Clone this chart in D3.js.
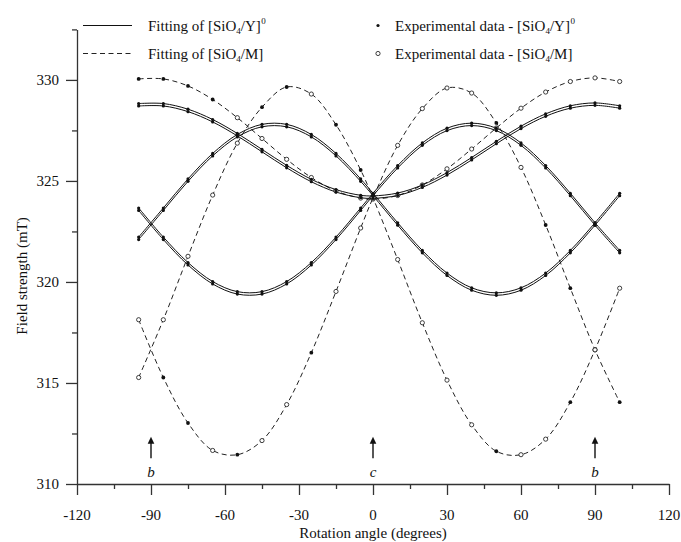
<!DOCTYPE html>
<html>
<head>
<meta charset="utf-8">
<script src="https://cdn.jsdelivr.net/npm/d3@7"></script>
<style>
  html, body { margin: 0; padding: 0; background: #fff; overflow: hidden; }
  svg { display: block; }
  svg text { font-family: "Liberation Serif", "Times New Roman", serif; fill: #111; }
</style>
</head>
<body>
<div id="graph"><svg></svg></div>
<script>
// rotation angles of the measured spectra (degrees)
let angles = [-95, -85, -75, -65, -55, -45, -35, -25, -15, -5, 0, 10, 20, 30, 40, 50, 60, 70, 80, 90, 100];

// [SiO4/Y]0 lines (field in mT), each one is a small 89Y doublet
let yLine1 = [328.77, 328.77, 328.49, 327.98, 327.29, 326.5, 325.71, 325.02, 324.51, 324.23, 324.2, 324.34, 324.74, 325.35, 326.1, 326.9, 327.65, 328.26, 328.66, 328.8, 328.66];
let yLine2 = [322.16, 323.6, 325.04, 326.3, 327.24, 327.74, 327.74, 327.24, 326.3, 325.04, 324.33, 322.87, 321.5, 320.38, 319.65, 319.4, 319.65, 320.38, 321.5, 322.87, 324.33];
let yLine3 = [323.6, 322.16, 320.9, 319.96, 319.46, 319.46, 319.96, 320.9, 322.16, 323.6, 324.33, 325.7, 326.82, 327.55, 327.8, 327.55, 326.82, 325.7, 324.33, 322.87, 321.5];
let yDoublet = 0.12;

// [SiO4/M] lines (field in mT)
let mLine1 = [330.05, 330.05, 329.7, 329.03, 328.13, 327.1, 326.07, 325.17, 324.5, 324.15, 324.1, 324.28, 324.8, 325.6, 326.58, 327.62, 328.6, 329.4, 329.92, 330.1, 329.92];
let mLine2 = [315.27, 318.13, 321.27, 324.3, 326.87, 328.65, 329.65, 329.3, 327.78, 325.54, 324.16, 321.11, 317.98, 315.14, 312.93, 311.62, 311.45, 312.22, 314.05, 316.64, 319.69];
let mLine3 = [318.13, 315.27, 313.02, 311.66, 311.45, 312.15, 313.93, 316.5, 319.53, 322.67, 324.16, 326.76, 328.58, 329.6, 329.35, 327.87, 325.67, 322.82, 319.69, 316.64, 314.05];

// angles where the point on a dashed line is a filled dot
let mFilled1 = [-95, -85, -75, -65];
let mFilled2 = [-45, -35, -15, -5, 50, 80];
let mFilled3 = [-85, -75, -55, -25, 50, 70, 80, 100];

// axis ticks
let xTicks = [-120, -90, -60, -30, 0, 30, 60, 90, 120];
let xMinor = [-105, -75, -45, -15, 15, 45, 75, 105];
let yTicks = [310, 315, 320, 325, 330];
let yMinor = [312.5, 317.5, 322.5, 327.5, 332.5];

// crystal axis arrows
let arrowAngles = [-90, 0, 90];
let arrowLabels = ["b", "c", "b"];
let arrowFrom = 311.28;
let arrowTo = 312.34;

// Margin Convention
let margins = { top: 29.4, right: 12, bottom: 58, left: 77 };
let outerWidth = 681;
let outerHeight = 542;
let innerWidth = outerWidth - margins.left - margins.right;
let innerHeight = outerHeight - margins.top - margins.bottom;

let root = d3.select("div#graph svg")
  .attr("width", outerWidth)
  .attr("height", outerHeight);

let svg = root.append("g")
  .attr("id", "plot-area")
  .attr("transform", "translate(" + margins.left + "," + margins.top + ")");

let x = d3.scaleLinear().domain([-120, 120]).range([0, innerWidth]);
let y = d3.scaleLinear().domain([310, 332.5]).range([innerHeight, 0]);

// axis lines and ticks (labels are placed below as plain texts)
svg.append("g")
  .attr("transform", "translate(0," + innerHeight + ")")
  .call(d3.axisBottom(x).tickValues(xTicks).tickFormat("").tickSize(11).tickSizeOuter(0));
svg.append("g")
  .attr("transform", "translate(0," + innerHeight + ")")
  .call(d3.axisBottom(x).tickValues(xMinor).tickFormat("").tickSize(5))
  .select(".domain").remove();
svg.append("g")
  .call(d3.axisLeft(y).tickValues(yTicks).tickFormat("").tickSize(11).tickSizeOuter(0));
svg.append("g")
  .call(d3.axisLeft(y).tickValues(yMinor).tickFormat("").tickSize(5))
  .select(".domain").remove();
svg.selectAll(".domain, .tick line").attr("stroke", "#333").attr("stroke-width", 1.3);

let labels = root.append("g");
labels.selectAll("text.xl")
  .data(xTicks)
  .join("text")
  .attr("class", "xl")
  .attr("x", (d) => margins.left + x(d))
  .attr("y", margins.top + innerHeight + 36)
  .attr("text-anchor", "middle")
  .attr("font-size", 15)
  .text((d) => String(d));
labels.selectAll("text.yl")
  .data(yTicks)
  .join("text")
  .attr("class", "yl")
  .attr("x", margins.left - 18)
  .attr("y", (d) => margins.top + y(d) + 5)
  .attr("text-anchor", "end")
  .attr("font-size", 15)
  .text((d) => String(d));

// axis titles
root.append("text")
  .attr("x", margins.left + x(0))
  .attr("y", 538)
  .attr("text-anchor", "middle")
  .style("font-size", "15px")
  .text("Rotation angle (degrees)");

root.append("text")
  .attr("transform", "translate(27," + (margins.top + y(320.3)) + ") rotate(-90)")
  .attr("text-anchor", "middle")
  .style("font-size", "15px")
  .text("Field strength (mT)");

let line = d3.line()
  .x((d) => x(d[0]))
  .y((d) => y(d[1]))
  .curve(d3.curveCatmullRom.alpha(0.5));

// dashed fits [SiO4/M]
let mLines = [mLine1, mLine2, mLine3];
let mFilled = [mFilled1, mFilled2, mFilled3];
mLines.forEach((vals) => {
  svg.append("path")
    .datum(angles.map((a, i) => [a, vals[i]]))
    .attr("d", line)
    .attr("fill", "none")
    .attr("stroke", "#222")
    .attr("stroke-width", 1)
    .attr("stroke-dasharray", "5,3.5");
});

// solid fits [SiO4/Y]0, drawn as the two doublet components
let yLines = [yLine1, yLine2, yLine3];
yLines.forEach((vals) => {
  [-yDoublet / 2, yDoublet / 2].forEach((off) => {
    svg.append("path")
      .datum(angles.map((a, i) => [a, vals[i] + off]))
      .attr("d", line)
      .attr("fill", "none")
      .attr("stroke", "#111")
      .attr("stroke-width", 1);
  });
});

// experimental points
mLines.forEach((vals, k) => {
  svg.append("g")
    .selectAll("circle")
    .data(angles.map((a, i) => ({ a: a, v: vals[i], filled: mFilled[k].includes(a) })))
    .join("circle")
    .attr("cx", (d) => x(d.a))
    .attr("cy", (d) => y(d.v))
    .attr("r", (d) => (d.filled ? 1.9 : 2.1))
    .attr("fill", (d) => (d.filled ? "#111" : "#fff"))
    .attr("stroke", "#111")
    .attr("stroke-width", (d) => (d.filled ? 0 : 0.8));
});

yLines.forEach((vals) => {
  [-yDoublet / 2, yDoublet / 2].forEach((off) => {
    svg.append("g")
      .selectAll("circle")
      .data(angles.map((a, i) => [a, vals[i] + off]))
      .join("circle")
      .attr("cx", (d) => x(d[0]))
      .attr("cy", (d) => y(d[1]))
      .attr("r", 1.6)
      .attr("fill", "#111");
  });
});

// arrows for the crystal axes
let arrows = svg.append("g");
arrowAngles.forEach((a, i) => {
  let ax = x(a);
  let top = y(arrowTo);
  arrows.append("line")
    .attr("x1", ax).attr("x2", ax)
    .attr("y1", y(arrowFrom)).attr("y2", top + 5)
    .attr("stroke", "#111")
    .attr("stroke-width", 1.4);
  arrows.append("path")
    .attr("d", "M" + ax + "," + top + "L" + (ax - 3.3) + "," + (top + 7) + "L" + (ax + 3.3) + "," + (top + 7) + "Z")
    .attr("fill", "#111");
  arrows.append("text")
    .attr("x", ax)
    .attr("y", y(arrowFrom) + 19)
    .attr("text-anchor", "middle")
    .style("font-size", "15px")
    .style("font-style", "italic")
    .text(arrowLabels[i]);
});

// legend
let legend = root.append("g");
function formula(x0, y0, pre, tail, sup) {
  let t = legend.append("text").attr("x", x0).attr("y", y0).style("font-size", "15px");
  t.append("tspan").text(pre + "[SiO");
  t.append("tspan").attr("dy", 3).style("font-size", "9px").text("4");
  t.append("tspan").attr("dy", -3).text(tail);
  if (sup) t.append("tspan").attr("dy", -7).attr("dx", 0.5).style("font-size", "9px").text("0");
}

legend.append("line")
  .attr("x1", 83).attr("x2", 132).attr("y1", 25.5).attr("y2", 25.5)
  .attr("stroke", "#111").attr("stroke-width", 1.2);
formula(148, 31, "Fitting of ", "/Y]", true);

legend.append("line")
  .attr("x1", 83).attr("x2", 132).attr("y1", 53.5).attr("y2", 53.5)
  .attr("stroke", "#222").attr("stroke-width", 1)
  .attr("stroke-dasharray", "5,3.5");
formula(148, 59, "Fitting of ", "/M]", false);

legend.append("circle").attr("cx", 378).attr("cy", 25.5).attr("r", 1.6).attr("fill", "#111");
formula(395, 31, "Experimental data - ", "/Y]", true);

legend.append("circle").attr("cx", 378).attr("cy", 53.5).attr("r", 2.1)
  .attr("fill", "#fff").attr("stroke", "#111").attr("stroke-width", 0.8);
formula(395, 59, "Experimental data - ", "/M]", false);
</script>
</body>
</html>
